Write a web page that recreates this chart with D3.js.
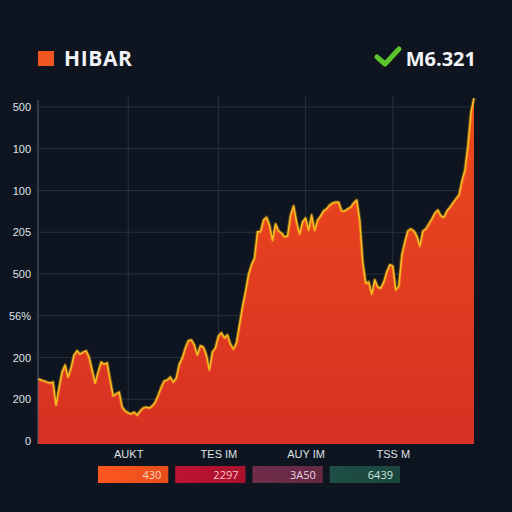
<!DOCTYPE html>
<html>
<head>
<meta charset="utf-8">
<script src="https://cdn.jsdelivr.net/npm/d3@7"></script>
<style>
  html, body { margin: 0; padding: 0; background: #0e1520; }
  svg { display: block; font-family: 'Open Sans', 'DejaVu Sans', sans-serif; }
</style>
</head>
<body>
<svg id="chart" width="512" height="512"></svg>
<script>
// MARK: Data.

const title      = 'HIBAR'
const badgeText  = 'M6.321'

// y axis: tick values and the (odd) labels printed next to them
const yTickValues = [0, 100, 200, 300, 400, 500, 600, 700, 800]
const yTickLabels = ['0', '200', '200', '56%', '500', '205', '100', '100', '500']

// x axis: tick positions (sample index) and labels
const xTickValues = [30, 60, 89, 118]
const xTickLabels = ['AUKT', 'TES IM', 'AUY IM', 'TSS M']

// series, one sample per step
const values = [
  149, 146, 144, 141, 139, 141, 86, 127, 165, 182, 153, 175, 206, 216, 208, 213,
  216, 201, 170, 139, 165, 189, 184, 187, 146, 108, 113, 117, 81, 72, 67, 65,
  69, 62, 72, 79, 81, 79, 84, 93, 110, 129, 144, 146, 153, 141, 151, 184,
  199, 223, 240, 242, 230, 206, 228, 225, 206, 170, 213, 223, 251, 259, 247, 254,
  232, 220, 235, 278, 321, 357, 398, 422, 438, 501, 501, 529, 536, 517, 481, 520,
  503, 498, 489, 491, 541, 563, 525, 496, 525, 534, 505, 541, 505, 529, 539, 551,
  556, 565, 570, 572, 572, 551, 551, 556, 560, 570, 577, 529, 429, 378, 381, 352,
  386, 369, 366, 381, 405, 422, 419, 362, 371, 445, 477, 503, 508, 503, 491, 467,
  503, 508, 520, 532, 546, 553, 539, 536, 551, 560, 570, 580, 589, 623, 649, 709,
  788, 821
]

// legend chips under the chart
const legendLabels = ['430', '2297', '3A50', '6439']
const legendColors = ['#f4521d', '#b3122e', '#6a2b47', '#1c4a41']
const legendText   = ['#ffd6be', '#f6c4cc', '#e6d3e0', '#cfe8df']

// MARK: Layout.

const MARGIN = { left: 38, right: 474, top: 96, bottom: 441 }

const svg = d3.select('#chart')

const x = d3.scaleLinear()
  .domain([0, values.length - 1])
  .range([MARGIN.left, MARGIN.right])

const y = d3.scaleLinear()
  .domain([0, 800])
  .range([MARGIN.bottom, 107])

// MARK: Gradients.

const defs = svg.append('defs')
const fillGrad = defs.append('linearGradient')
  .attr('id', 'fill').attr('x1', 0).attr('y1', 0).attr('x2', 0).attr('y2', 1)
fillGrad.append('stop').attr('offset', '0%').attr('stop-color', '#ee4a1c')
fillGrad.append('stop').attr('offset', '100%').attr('stop-color', '#d73024')

legendColors.forEach((c, i) => {
  const g = defs.append('linearGradient')
    .attr('id', 'chip' + i).attr('x1', 0).attr('y1', 0).attr('x2', 1).attr('y2', 0)
  g.append('stop').attr('offset', '0%').attr('stop-color', d3.color(c).brighter(0.15))
  g.append('stop').attr('offset', '100%').attr('stop-color', d3.color(c).darker(0.15))
})

// MARK: Grid.

const grid = svg.append('g').attr('class', 'grid')
grid.selectAll('line.h')
  .data(yTickValues.slice(1)).enter()
  .append('line')
  .attr('class', 'h')
  .attr('x1', MARGIN.left).attr('x2', 470)
  .attr('y1', (d) => y(d)).attr('y2', (d) => y(d))
  .attr('stroke', '#27303b').attr('stroke-width', 1)
grid.selectAll('line.v')
  .data(xTickValues).enter()
  .append('line')
  .attr('class', 'v')
  .attr('x1', (d) => x(d)).attr('x2', (d) => x(d))
  .attr('y1', MARGIN.top).attr('y2', MARGIN.bottom + 3)
  .attr('stroke', '#27303b').attr('stroke-width', 1)

// MARK: Area + line.

const area = d3.area()
  .x((d, i) => x(i))
  .y0(MARGIN.bottom + 3)
  .y1((d) => y(d))

const line = d3.line()
  .x((d, i) => x(i))
  .y((d) => y(d))

svg.append('path')
  .datum(values)
  .attr('d', area)
  .attr('fill', 'url(#fill)')

// soft glow under the line, then the line itself
svg.append('path')
  .datum(values)
  .attr('d', line)
  .attr('fill', 'none')
  .attr('stroke', '#f7a81e')
  .attr('stroke-opacity', 0.35)
  .attr('stroke-width', 3.5)
  .attr('stroke-linejoin', 'round')
svg.append('path')
  .datum(values)
  .attr('d', line)
  .attr('fill', 'none')
  .attr('stroke', '#f8bf22')
  .attr('stroke-width', 1.5)
  .attr('stroke-linejoin', 'round')

// axis line on the left
svg.append('line')
  .attr('x1', MARGIN.left).attr('x2', MARGIN.left)
  .attr('y1', 100).attr('y2', MARGIN.bottom + 3)
  .attr('stroke', '#55606c').attr('stroke-width', 1)

// MARK: Axes.

const yAxis = d3.axisLeft(y)
  .tickValues(yTickValues)
  .tickSize(0)
  .tickPadding(6)
  .tickFormat((d, i) => yTickLabels[i])

svg.append('g')
  .attr('transform', `translate(${MARGIN.left - 1},0)`)
  .call(yAxis)
  .call((g) => g.select('.domain').remove())
  .call((g) => g.selectAll('text')
    .attr('fill', '#dfe3e8')
    .style('font-size', '11px'))

const xAxis = d3.axisBottom(x)
  .tickValues(xTickValues)
  .tickSize(0)
  .tickPadding(6)
  .tickFormat((d, i) => xTickLabels[i])

svg.append('g')
  .attr('transform', `translate(0,${MARGIN.bottom + 3})`)
  .call(xAxis)
  .call((g) => g.select('.domain').remove())
  .call((g) => g.selectAll('text')
    .attr('fill', '#dde1e6')
    .style('font-size', '11px'))

// MARK: Legend chips.

const chip = d3.scaleBand()
  .domain(d3.range(legendLabels.length))
  .range([98, 400])
  .paddingInner(0.09)

const chips = svg.append('g').selectAll('g')
  .data(legendLabels).enter()
  .append('g')
  .attr('transform', (d, i) => `translate(${chip(i)},466)`)
chips.append('rect')
  .attr('width', chip.bandwidth())
  .attr('height', 17)
  .attr('fill', (d, i) => `url(#chip${i})`)
chips.append('text')
  .attr('x', chip.bandwidth() - 7)
  .attr('y', 12.5)
  .attr('text-anchor', 'end')
  .attr('fill', (d, i) => legendText[i])
  .style('font-size', '11px')
  .text((d) => d)

// MARK: Header.

svg.append('rect')
  .attr('x', 38).attr('y', 51)
  .attr('width', 16).attr('height', 15)
  .attr('fill', '#f0561f')
svg.append('text')
  .attr('x', 64).attr('y', 66)
  .attr('fill', '#f1f3f6')
  .style('font-size', '21px')
  .style('font-weight', 700)
  .style('letter-spacing', '0.6px')
  .text(title)

svg.append('path')
  .attr('d', 'M377,57 L385,64 L399,49')
  .attr('fill', 'none')
  .attr('stroke', '#5cc52b')
  .attr('stroke-width', 5)
  .attr('stroke-linecap', 'round')
  .attr('stroke-linejoin', 'round')
svg.append('text')
  .attr('x', 476).attr('y', 66)
  .attr('text-anchor', 'end')
  .attr('fill', '#f1f3f6')
  .style('font-size', '20px')
  .style('font-weight', 700)
  .text(badgeText)
</script>
</body>
</html>
